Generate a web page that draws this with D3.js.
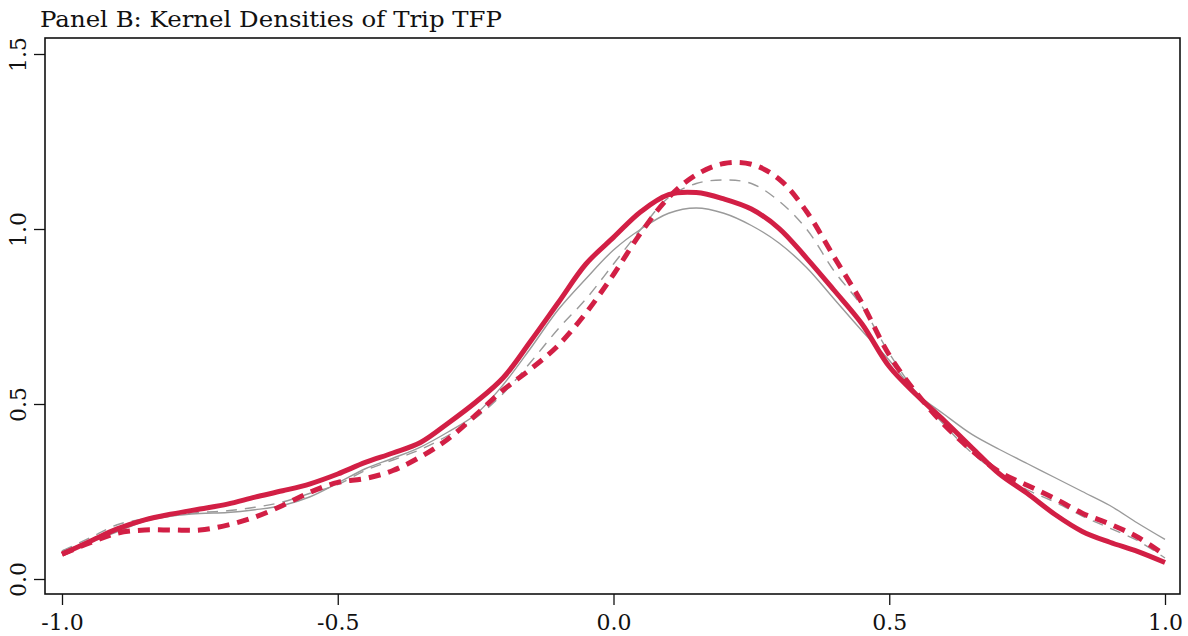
<!DOCTYPE html>
<html>
<head>
<meta charset="utf-8">
<script src="https://cdnjs.cloudflare.com/ajax/libs/d3/7.8.5/d3.min.js"></script>
<style>
body {margin: 0; background: #fff;}
svg text {font-family: "DejaVu Serif", "Liberation Serif", serif; fill: #111;}
</style>
</head>
<body>
<svg id="chart" width="1188" height="636"></svg>
<script>
// grid of TFP values the densities were read at
var tfpGrid = d3.range(-1, 1.0001, 0.05).map(function(v) { return +v.toFixed(2); });

// thick solid red
var redSolid = [0.071, 0.107, 0.143, 0.169, 0.186, 0.200, 0.214, 0.234, 0.252, 0.272,
                0.300, 0.333, 0.360, 0.390, 0.445, 0.505, 0.575, 0.680, 0.790, 0.900,
                0.976, 1.050, 1.098, 1.104, 1.086, 1.057, 1.002, 0.917, 0.825, 0.730,
                0.607, 0.525, 0.452, 0.375, 0.300, 0.245, 0.185, 0.136, 0.105, 0.079, 0.047];
// thick dashed red
var redDash  = [0.071, 0.103, 0.131, 0.140, 0.140, 0.140, 0.154, 0.177, 0.210, 0.248,
                0.276, 0.287, 0.310, 0.349, 0.400, 0.468, 0.540, 0.600, 0.668, 0.760,
                0.870, 0.990, 1.090, 1.155, 1.187, 1.185, 1.143, 1.050, 0.920, 0.790,
                0.640, 0.530, 0.440, 0.367, 0.306, 0.268, 0.230, 0.188, 0.157, 0.120, 0.068];
// thin solid grey
var greySolid = [0.080, 0.105, 0.135, 0.165, 0.180, 0.187, 0.190, 0.198, 0.210, 0.235,
                 0.274, 0.315, 0.345, 0.377, 0.420, 0.470, 0.555, 0.660, 0.770, 0.858,
                 0.940, 1.000, 1.045, 1.060, 1.045, 1.010, 0.960, 0.890, 0.800, 0.710,
                 0.625, 0.530, 0.470, 0.413, 0.370, 0.330, 0.290, 0.250, 0.210, 0.160, 0.113];
// thin dashed grey
var greyDash = [0.080, 0.117, 0.155, 0.172, 0.182, 0.190, 0.195, 0.205, 0.220, 0.245,
                0.270, 0.310, 0.340, 0.370, 0.410, 0.460, 0.530, 0.620, 0.715, 0.800,
                0.900, 1.000, 1.090, 1.130, 1.140, 1.130, 1.080, 1.000, 0.880, 0.780,
                0.645, 0.530, 0.440, 0.360, 0.300, 0.255, 0.220, 0.180, 0.145, 0.110, 0.060];

var xTicks = [-1, -0.5, 0, 0.5, 1];
var yTicks = [0, 0.5, 1, 1.5];

// plain hyphen for negatives, like the original
var fmt = function(d) { return d.toFixed(1); };

var svg = d3.select("#chart");
var box = {left: 45, right: 1180, top: 38, bottom: 594};

var x = d3.scaleLinear().domain([-1, 1]).range([62, 1165]);
var y = d3.scaleLinear().domain([0, 1.5]).range([579, 54]);

svg.append("text")
   .attr("x", 40).attr("y", 27)
   .style("font-size", "23px")
   .attr("textLength", 462).attr("lengthAdjust", "spacingAndGlyphs")
   .text("Panel B: Kernel Densities of Trip TFP");

var xAxis = svg.append("g")
   .attr("transform", "translate(0," + box.bottom + ")")
   .call(d3.axisBottom(x).tickValues(xTicks).tickSize(11).tickPadding(9).tickFormat(fmt));
xAxis.select(".domain").remove();
xAxis.selectAll("line").attr("stroke", "#111").attr("stroke-width", 1.3);
xAxis.selectAll("text").style("font-size", "22px").style("font-family", null);

var yAxis = svg.append("g")
   .attr("transform", "translate(" + box.left + ",0)")
   .call(d3.axisLeft(y).tickValues(yTicks).tickSize(11).tickFormat(fmt));
yAxis.select(".domain").remove();
yAxis.selectAll("line").attr("stroke", "#111").attr("stroke-width", 1.3);
yAxis.selectAll("text")
   .style("font-size", "22px").style("font-family", null)
   .attr("text-anchor", "middle")
   .attr("x", 0).attr("dy", 0)
   .attr("transform", "translate(-19,0) rotate(-90)");

svg.append("rect")
   .attr("x", box.left).attr("y", box.top)
   .attr("width", box.right - box.left).attr("height", box.bottom - box.top)
   .attr("fill", "none").attr("stroke", "#111").attr("stroke-width", 1.6);

var line = d3.line()
   .x(function(d) { return x(d[0]); })
   .y(function(d) { return y(d[1]); })
   .curve(d3.curveCatmullRom.alpha(0.5));

function draw(vals, color, width, dash) {
  svg.append("path")
     .datum(tfpGrid.map(function(t, i) { return [t, vals[i]]; }))
     .attr("d", line)
     .attr("fill", "none")
     .attr("stroke", color)
     .attr("stroke-width", width)
     .attr("stroke-dasharray", dash)
     .attr("stroke-linecap", "butt");
}

draw(greySolid, "#9a9a9a", 1.4, null);
draw(greyDash, "#9a9a9a", 1.4, "11,8");
draw(redSolid, "#d21f45", 5, null);
draw(redDash, "#d21f45", 5, "12,8");
</script>
</body>
</html>
